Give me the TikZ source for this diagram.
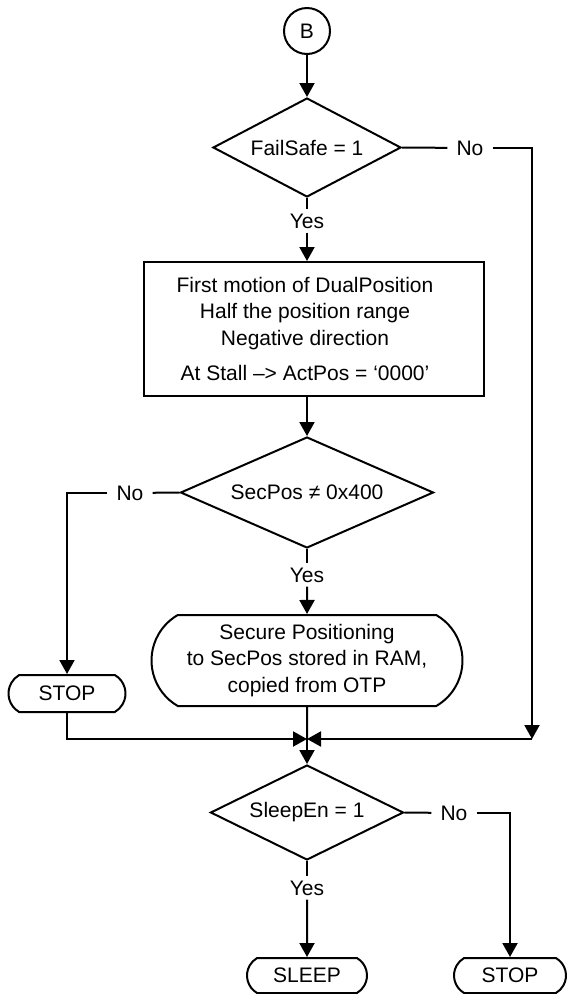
\documentclass[tikz,border=0pt]{standalone}
\usepackage{fontspec}
\setmainfont{Liberation Sans}
\usetikzlibrary{arrows.meta,shapes.geometric,shapes.misc}
\begin{document}
\begin{tikzpicture}[x=1pt,y=1pt,
  every node/.style={font=\fontsize{21}{26.5}\selectfont},
  line/.style={line width=2pt},
  arr/.style={line width=2pt,-{Triangle[length=14pt,width=15pt]}},
  dec/.style={diamond,draw,line width=2pt,inner sep=0pt,aspect=2},
  term/.style={rounded rectangle,rounded rectangle arc length=120,draw,line width=2pt,inner sep=0pt},
  lbl/.style={inner xsep=9pt,inner ysep=4pt}]
\useasboundingbox (0,0) rectangle (567,-994);
\node[circle,draw,line width=2pt,minimum size=46pt,inner sep=0pt] (B) at (307,-31) {B};
\node[dec,minimum width=188pt,minimum height=99pt] (d1) at (307,-147.5) {FailSafe = 1};
\node[lbl] (y1) at (307,-221) {Yes};
\node[lbl] (no1) at (470,-148) {No};
\coordinate (cR) at (532,-739);
\node[draw,line width=2pt,minimum width=340pt,minimum height=134pt,inner sep=0pt] (box1) at (314,-329) {};
\node[align=center] (t1) at (305,-329) {First motion of DualPosition\\Half the position range\\Negative direction\\[9pt]At Stall –> ActPos = ‘0000’};
\node[dec,minimum width=253pt,minimum height=111pt] (d2) at (307,-492.5) {SecPos ≠ 0x400};
\node[lbl] (no2) at (130,-493) {No};
\node[lbl] (y2) at (307,-575) {Yes};
\node[term,minimum width=311pt,minimum height=91pt,align=center] (sec) at (307,-660.5) {Secure Positioning\\to SecPos stored in RAM,\\copied from OTP};
\node[term,minimum width=117pt,minimum height=37pt] (stop1) at (67,-693.5) {STOP};
\coordinate (J) at (307,-739);
\node[dec,minimum width=193pt,minimum height=95pt] (d3) at (307,-812.5) {SleepEn = 1};
\node[lbl] (no3) at (454,-813) {No};
\node[lbl] (y3) at (307,-888) {Yes};
\node[term,minimum width=120pt,minimum height=35pt] (sleep) at (307,-975.5) {SLEEP};
\node[term,minimum width=112pt,minimum height=35pt] (stop2) at (510,-975.5) {STOP};
% connectors
\draw[arr] (B) -- (d1);
\draw[line] (d1) -- (y1);
\draw[arr] (y1) -- (y1 |- box1.north);
\draw[line] (d1.east) -- (no1);
\draw[arr] (no1) -| (cR);
\draw[arr] (cR) -- (J);
\draw[arr] (d2 |- box1.south) -- (d2.north);
\draw[line] (d2.west) -- (no2);
\draw[arr] (no2) -| (stop1);
\draw[line] (d2) -- (y2);
\draw[arr] (y2) -- (sec);
\draw[arr] (stop1) |- (J);
\draw[line] (sec) -- (J);
\draw[arr] (J) -- (d3);
\draw[line] (d3.east) -- (no3);
\draw[arr] (no3) -| (stop2);
\draw[line] (d3) -- (y3);
\draw[arr] (y3) -- (sleep);
\end{tikzpicture}
\end{document}
